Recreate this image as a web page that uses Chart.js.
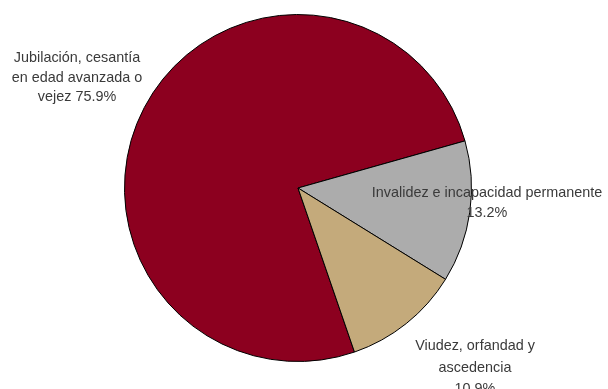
<!DOCTYPE html>
<html>
<head>
<meta charset="utf-8">
<script src="https://cdn.jsdelivr.net/npm/chart.js@4/dist/chart.umd.min.js"></script>
<style>
  html, body { margin: 0; padding: 0; background: #ffffff; }
  #wrap { width: 608px; height: 389px; position: relative; }
</style>
</head>
<body>
<div id="wrap"><canvas id="c" width="608" height="389"></canvas></div>
<script>
// Distribución por tipo de pensión (%)
const categories = [
  ['Jubilación, cesantía', 'en edad avanzada o', 'vejez'],
  ['Invalidez e incapacidad permanente'],
  ['Viudez, orfandad y', 'ascedencia']
];
const shares = [75.9, 13.2, 10.9];
const sliceColors = ['#8c001f', '#acacac', '#c4aa7b'];

// label placement: pixel anchor (centre x, first baseline) and line gap
const labelPlacement = [
  { x: 77, y: 62, gap: 19.5, pctInline: true },
  { x: 487, y: 197, gap: 20, pctInline: false },
  { x: 475, y: 350, gap: 21.5, pctInline: false }
];

const outsideLabels = {
  id: 'outsideLabels',
  afterDatasetsDraw(chart) {
    const ctx = chart.ctx;
    ctx.save();
    ctx.font = '14.4px "Liberation Sans", Arial, sans-serif';
    ctx.fillStyle = '#3a3a3a';
    ctx.textAlign = 'center';
    ctx.textBaseline = 'alphabetic';
    const data = chart.data.datasets[0].data;
    categories.forEach((lines, i) => {
      const p = labelPlacement[i];
      const pct = data[i].toFixed(1) + '%';
      const out = lines.slice();
      if (p.pctInline) {
        out[out.length - 1] = out[out.length - 1] + ' ' + pct;
      } else {
        out.push(pct);
      }
      out.forEach((t, k) => ctx.fillText(t, p.x, p.y + k * p.gap));
    });
    ctx.restore();
  }
};

new Chart(document.getElementById('c'), {
  type: 'pie',
  data: {
    labels: categories.map(l => l.join(' ')),
    datasets: [{
      data: shares,
      backgroundColor: sliceColors,
      borderColor: '#000000',
      borderWidth: 1,
      borderAlign: 'center'
    }]
  },
  options: {
    responsive: false,
    animation: false,
    rotation: 161,
    layout: { padding: { top: 14, bottom: 27, left: 0, right: 12 } },
    plugins: {
      legend: { display: false },
      tooltip: { enabled: false }
    }
  },
  plugins: [outsideLabels]
});
</script>
</body>
</html>
